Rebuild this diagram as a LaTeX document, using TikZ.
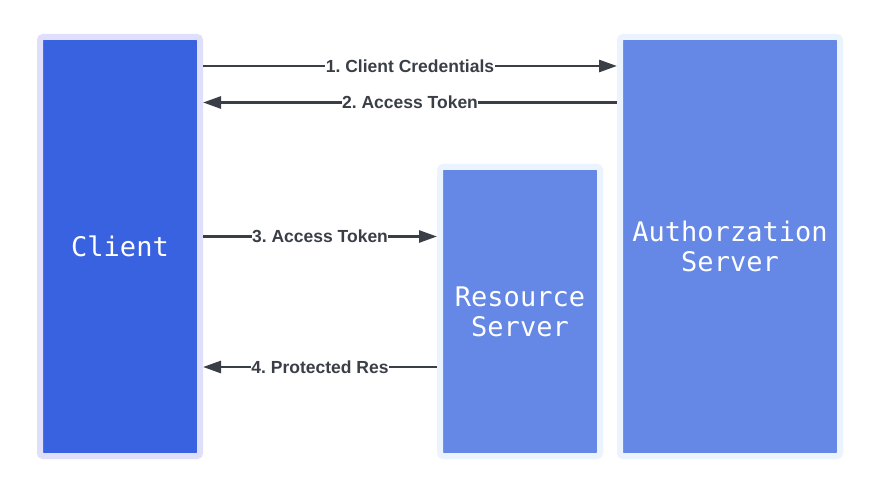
\documentclass[tikz,border=0pt]{standalone}
\usepackage{fontspec}
\setmainfont{Liberation Sans}
\newfontfamily\boxmono{DejaVu Sans Mono}
\usetikzlibrary{arrows.meta,positioning}

\definecolor{cClientFill}{RGB}{56,98,224}
\definecolor{cClientHalo}{RGB}{223,223,251}
\definecolor{cServerFill}{RGB}{101,135,230}
\definecolor{cServerHalo}{RGB}{234,243,254}
\definecolor{cArrow}{RGB}{58,63,71}

\tikzset{
  party/.style={draw=cServerHalo, fill=cServerFill, line width=6pt, rounded corners=3pt,
    text=white, align=center, font=\boxmono\fontsize{27}{30}\selectfont},
  flow/.style={line width=2.7pt, draw=cArrow, -{Triangle[length=18pt,width=12pt]}},
  msg/.style={fill=white, text=cArrow, font=\frenchspacing\bfseries\fontsize{17.5}{20}\selectfont,
    inner xsep=0.5pt, inner ysep=1pt}
}

\begin{document}
\begin{tikzpicture}[x=1pt,y=-1pt]
        \useasboundingbox (0,0) rectangle (880,497);

        % the three parties
        \node[party, draw=cClientHalo, fill=cClientFill, minimum width=160pt, minimum height=419pt]
            (client) at (120,246.5) {Client};
        \node[party, minimum width=160pt, minimum height=289pt]
            (resource) at (520,311.5) {Resource\\Server};
        \node[party, minimum width=220pt, minimum height=419pt]
            (auth) at (730,246.5) {Authorzation\\Server};

        % heights of the messages
        \coordinate (cOnePt) at (0,66);
        \coordinate (cTwoPt) at (0,102.5);
        \coordinate (cThreePt) at (0,236.5);
        \coordinate (cFourPt) at (0,367);

        \draw[flow] (client.east |- cOnePt) -- node[msg]{1. Client Credentials} (auth.west |- cOnePt);
        \draw[flow] (auth.west |- cTwoPt) -- node[msg]{2. Access Token} (client.east |- cTwoPt);
        \draw[flow] (client.east |- cThreePt) -- node[msg]{3. Access Token} (resource.west |- cThreePt);
        \draw[flow] (resource.west |- cFourPt) -- node[msg]{4. Protected Res} (client.east |- cFourPt);
\end{tikzpicture}
\end{document}
